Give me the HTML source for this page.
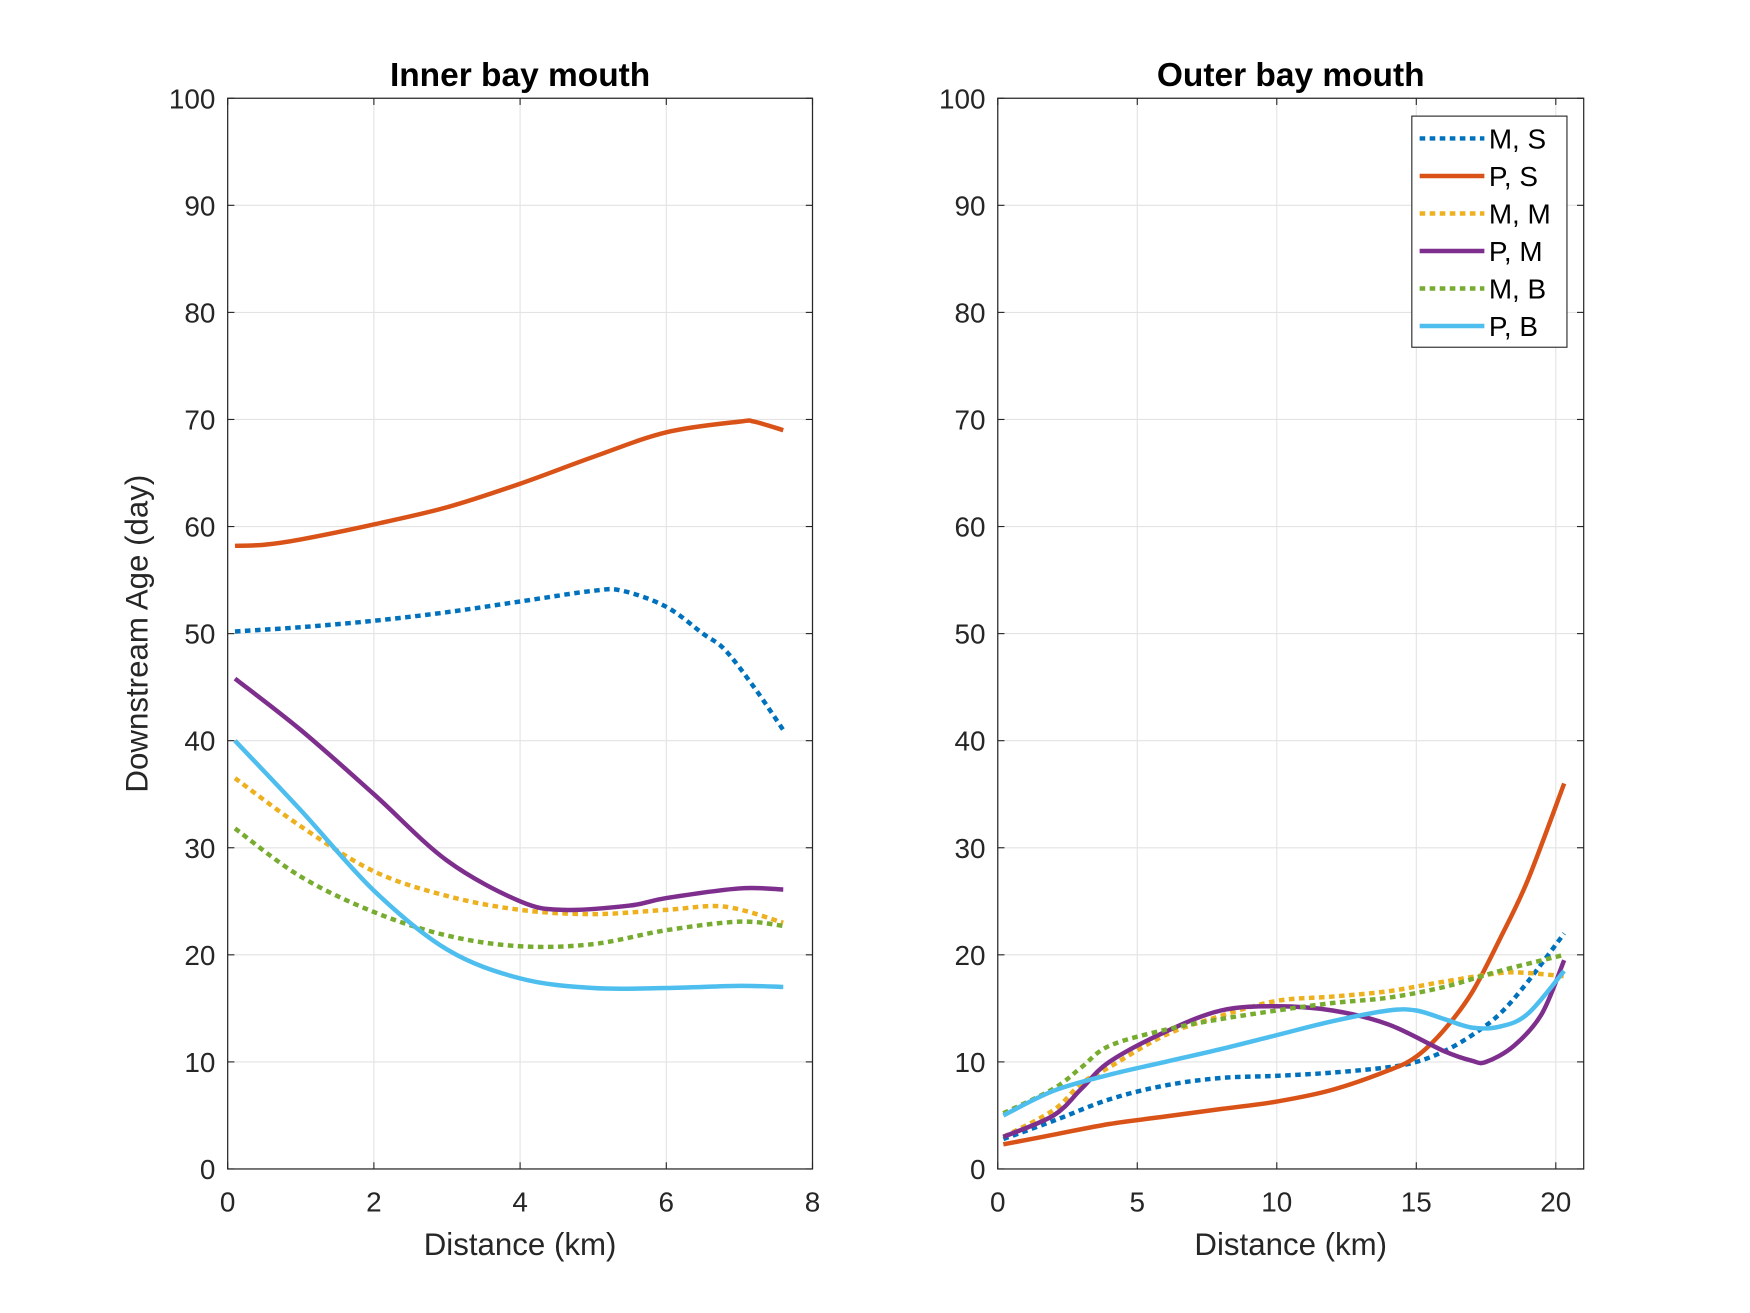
<!DOCTYPE html>
<html><head><meta charset="utf-8"><style>
html,body{margin:0;padding:0;background:#fff;}
svg{display:block;font-family:"Liberation Sans",Arial,sans-serif;}
</style></head><body>
<svg id="fig" width="1750" height="1313" viewBox="0 0 1568 1176" preserveAspectRatio="none" xmlns="http://www.w3.org/2000/svg"></svg>
<script>
// ---- data ----
const colors = ["#0072BD","#D95319","#EDB120","#7E2F8E","#77AC30","#4DBEEE"];
const seriesNames = ["M, S","P, S","M, M","P, M","M, B","P, B"];
const dotted = [true,false,true,false,true,false];
const yTicks = [0,10,20,30,40,50,60,70,80,90,100];
const innerXTicks = [0,2,4,6,8];
const outerXTicks = [0,5,10,15,20];

const innerX_MS = [0.1,1,2,3,4,5,5.4,6,6.5,6.8,7.2,7.6];
const innerY_MS = [50.2,50.6,51.2,52,53,54,54,52.5,50,48.5,45,41];
const innerX_PS = [0.1,0.5,1,2,3,4,5,6,7,7.2,7.6];
const innerY_PS = [58.2,58.3,58.8,60.2,61.8,64,66.5,68.8,69.8,69.8,69];
const innerX_MM = [0.1,1,2,3,4,5,6,6.8,7.6];
const innerY_MM = [36.5,32,27.8,25.5,24.2,23.8,24.2,24.5,23];
const innerX_PM = [0.1,1,2,3,4,4.6,5.5,6,7,7.6];
const innerY_PM = [45.8,41,35,28.8,25,24.2,24.6,25.3,26.2,26.1];
const innerX_MB = [0.1,1,2,3,4,5,6,7,7.6];
const innerY_MB = [31.8,27.3,24,21.8,20.8,21,22.3,23.1,22.7];
const innerX_PB = [0.1,1,2,3,4,5,6,7,7.6];
const innerY_PB = [40,33.5,26,20.5,17.8,16.9,16.9,17.1,17];

const outerX_MS = [0.2,2,4,6,8,10,12,14,15,16,17,18,19,20.3];
const outerY_MS = [2.8,4.5,6.5,7.8,8.5,8.7,9,9.5,10,11,12.5,14.5,17.5,22];
const outerX_PS = [0.2,2,4,6,8,10,12,14,15,16,17,18,19,20.3];
const outerY_PS = [2.3,3.2,4.2,4.9,5.6,6.3,7.4,9.2,10.5,13,16.5,21.5,27,36];
const outerX_MM = [0.2,2,3,4,6,8,10,12,14,16,18,19,20.3];
const outerY_MM = [3,5.5,8,9.5,12.5,14.3,15.7,16.1,16.6,17.5,18.3,18.3,18];
const outerX_PM = [0.2,2,3,4,6,8,10,12,14,16,17,17.5,18.5,19.5,20.3];
const outerY_PM = [3,5,7.5,10,12.8,14.8,15.2,14.8,13.5,11,10.1,10,11.5,14.5,19.5];
const outerX_MB = [0.2,2,3,4,6,8,10,12,14,16,18,20.3];
const outerY_MB = [5.2,7.5,9.5,11.5,13,14,14.8,15.5,16,17,18.5,20];
const outerX_PB = [0.2,2,4,6,8,10,12,14,15,16,17,18,19,20.3];
const outerY_PB = [5,7.3,8.8,10,11.2,12.5,13.8,14.8,14.8,14,13.2,13.3,14.5,18.5];

const innerXs=[innerX_MS,innerX_PS,innerX_MM,innerX_PM,innerX_MB,innerX_PB];
const innerYs=[innerY_MS,innerY_PS,innerY_MM,innerY_PM,innerY_MB,innerY_PB];
const outerXs=[outerX_MS,outerX_PS,outerX_MM,outerX_PM,outerX_MB,outerX_PB];
const outerYs=[outerY_MS,outerY_PS,outerY_MM,outerY_PM,outerY_MB,outerY_PB];

const NS="http://www.w3.org/2000/svg";
const svg=document.getElementById('fig');
function mk(tag,attrs,parent){const e=document.createElementNS(NS,tag);for(const k in attrs)e.setAttribute(k,attrs[k]);(parent||svg).appendChild(e);return e;}

function smoothPath(pts){
  let d="M"+pts[0][0].toFixed(2)+","+pts[0][1].toFixed(2);
  for(let i=0;i<pts.length-1;i++){
    const p0=pts[Math.max(0,i-1)],p1=pts[i],p2=pts[i+1],p3=pts[Math.min(pts.length-1,i+2)];
    const c1=[p1[0]+(p2[0]-p0[0])/6,p1[1]+(p2[1]-p0[1])/6];
    const c2=[p2[0]-(p3[0]-p1[0])/6,p2[1]-(p3[1]-p1[1])/6];
    d+=" C"+c1[0].toFixed(2)+","+c1[1].toFixed(2)+" "+c2[0].toFixed(2)+","+c2[1].toFixed(2)+" "+p2[0].toFixed(2)+","+p2[1].toFixed(2);
  }
  return d;
}

function panel(name,L,R,xmax,xticks,title,Xs,Ys,ylabel){
  const T=88,B=1047;
  const g=mk('g',{});
  
  
  const sx=v=>L+(v/xmax)*(R-L);
  const sy=v=>B-(v/100)*(B-T);
  yTicks.forEach(t=>{const l=mk('line',{x1:L,x2:R,y1:sy(t),y2:sy(t),stroke:'#e3e3e3','stroke-width':1},g);
    
    });
  xticks.forEach(t=>{const l=mk('line',{x1:sx(t),x2:sx(t),y1:T,y2:B,stroke:'#e3e3e3','stroke-width':1},g);
    
    });
  const clip=mk('clipPath',{id:'clip-'+name},g);
  mk('rect',{x:L,y:T,width:R-L,height:B-T},clip);
  for(let s=0;s<6;s++){
    const pts=Xs[s].map((x,i)=>[sx(x),sy(Ys[s][i])]);
    const p=mk('path',{d:smoothPath(pts),fill:'none',stroke:colors[s],'stroke-width':4,'clip-path':'url(#clip-'+name+')'},g);
    if(dotted[s]){p.setAttribute('stroke-dasharray','5 4');}
    
    
  }
  const box=mk('rect',{x:L,y:T,width:R-L,height:B-T,fill:'none',stroke:'#262626','stroke-width':1.1},g);
  
  
  yTicks.forEach(t=>{
    mk('line',{x1:L,x2:L+6,y1:sy(t),y2:sy(t),stroke:'#262626','stroke-width':1},g);
    mk('line',{x1:R,x2:R-6,y1:sy(t),y2:sy(t),stroke:'#262626','stroke-width':1},g);
    const tx=mk('text',{x:L-11,y:sy(t)+9,'text-anchor':'end','font-size':25,fill:'#262626'},g);
    tx.textContent=t;
    
    
  });
  xticks.forEach(t=>{
    mk('line',{x1:sx(t),x2:sx(t),y1:B,y2:B-6,stroke:'#262626','stroke-width':1},g);
    mk('line',{x1:sx(t),x2:sx(t),y1:T,y2:T+6,stroke:'#262626','stroke-width':1},g);
    const tx=mk('text',{x:sx(t),y:B+38,'text-anchor':'middle','font-size':25,fill:'#262626'},g);
    tx.textContent=t;
    
    
  });
  const xl=mk('text',{x:(L+R)/2,y:B+77,'text-anchor':'middle','font-size':28,fill:'#262626'},g);
  xl.textContent='Distance (km)';
  
  
  const ti=mk('text',{x:(L+R)/2,y:T-11,'text-anchor':'middle','font-size':30,'font-weight':'bold',fill:'#000'},g);
  ti.textContent=title;
  
  
  if(ylabel){
    const yl=mk('text',{x:0,y:0,'text-anchor':'middle','font-size':28,fill:'#262626',transform:'translate(132,'+((T+B)/2)+') rotate(-90)'},g);
    yl.textContent=ylabel;
    
    
  }
  return {sx,sy};
}

panel('inner-panel',204,728,8,innerXTicks,'Inner bay mouth',innerXs,innerYs,'Downstream Age (day)');
panel('outer-panel',894,1419,21,outerXTicks,'Outer bay mouth',outerXs,outerYs,null);

const lg=mk('g',{});


const lb=mk('rect',{x:1265,y:104,width:139,height:207,fill:'#fff',stroke:'#262626','stroke-width':1},lg);


for(let s=0;s<6;s++){
  const y=124+s*33.6;
  const ent=mk('g',{},lg);
  
  
  const l=mk('line',{x1:1272,x2:1330,y1:y,y2:y,stroke:colors[s],'stroke-width':4},ent);
  if(dotted[s]) l.setAttribute('stroke-dasharray','5 4');
  const t=mk('text',{x:1334,y:y+9,'font-size':25,fill:'#000'},ent);
  t.textContent=seriesNames[s];
}
</script>
</body></html>
